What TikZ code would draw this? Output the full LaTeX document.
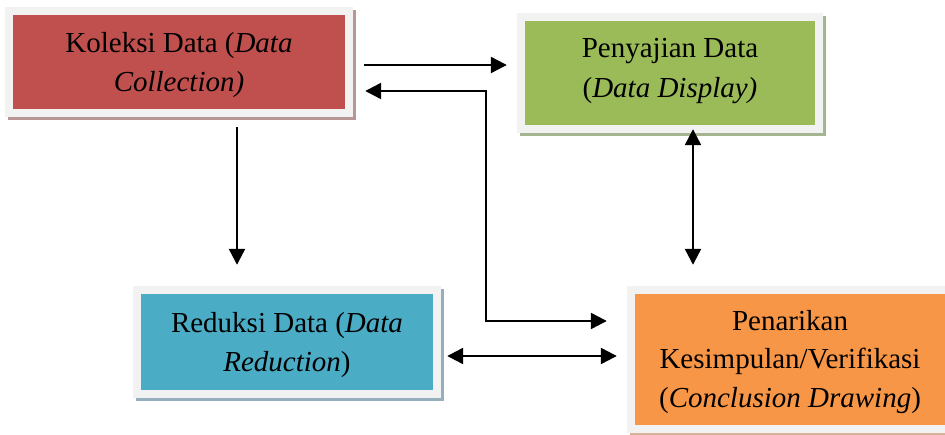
\documentclass[tikz,border=0pt]{standalone}
\usepackage{fontspec}
\setmainfont{Liberation Serif}
\usetikzlibrary{arrows.meta,shadows,calc}
\definecolor{cred}{HTML}{C0504D}
\definecolor{cgreen}{HTML}{9BBB59}
\definecolor{cblue}{HTML}{4BACC6}
\definecolor{corange}{HTML}{F79646}
\definecolor{frame}{HTML}{F2F2F2}
\definecolor{sred}{RGB}{185,150,150}
\definecolor{sgreen}{RGB}{165,180,145}
\definecolor{sblue}{RGB}{150,175,190}
\definecolor{sorange}{RGB}{215,180,150}
\tikzset{
  boxframe/.style={rectangle, fill=frame, inner sep=0pt, draw=none},
  shad/.style={drop shadow={shadow xshift=3pt, shadow yshift=-3pt, fill=#1, opacity=1}},
  txt/.style={align=center, inner sep=0pt, font=\fontsize{29}{38.5}\selectfont},
  arr/.style={line width=2.3pt, -{Triangle[length=16pt,width=16pt]}},
  darr/.style={line width=2.3pt, {Triangle[length=16pt,width=16pt]}-{Triangle[length=16pt,width=16pt]}},
}
\begin{document}
\begin{tikzpicture}[x=1pt,y=-1pt]
\useasboundingbox (0,0) rectangle (945,435);
% boxes
\node[boxframe, shad=sred, minimum width=348pt, minimum height=110pt] (r) at (179,62) {};
\fill[cred] ($(r.north west)+(8,8)$) rectangle ($(r.south east)+(-8,-8)$);
\node[boxframe, shad=sgreen, minimum width=306pt, minimum height=120pt] (g) at (670,73) {};
\fill[cgreen] ($(g.north west)+(8,8)$) rectangle ($(g.south east)+(-8,-8)$);
\node[boxframe, shad=sblue, minimum width=308pt, minimum height=112pt] (b) at (287,342) {};
\fill[cblue] ($(b.north west)+(8,8)$) rectangle ($(b.south east)+(-8,-8)$);
\node[boxframe, shad=sorange, minimum width=326pt, minimum height=147pt] (o) at (790,359.5) {};
\fill[corange] ($(o.north west)+(8,8)$) rectangle ($(o.south east)+(-8,-8)$);
% texts
\node[txt] (rt) at (179,65) {Koleksi Data (\textit{Data}\\\textit{Collection)}};
\node[txt, font=\fontsize{29}{40}\selectfont] (gt) at (670,71) {Penyajian Data\\(\textit{Data Display)}};
\node[txt] (bt) at (287,345) {Reduksi Data (\textit{Data}\\\textit{Reduction})};
\node[txt] (ot) at (790,362) {Penarikan\\Kesimpulan/Verifikasi\\(\textit{Conclusion Drawing})};
% connectors
\draw[arr] ($(r.east|-0,65)+(11,0)$) -- ($(g.west|-0,65)+(-10,0)$);
\coordinate (k1) at (486,91);
\coordinate (k2) at (486,321);
\draw[darr] ($(r.east|-k1)+(12,0)$) -- (k1) -- (k2) -- ($(o.west|-k2)+(-20,0)$);
\draw[arr] ($(r.south-|237,0)+(0,10)$) -- ($(b.north-|237,0)+(0,-21)$);
\draw[darr] ($(g.south-|693,0)+(0,-4)$) -- ($(o.north-|693,0)+(0,-21)$);
\draw[darr] ($(b.east|-0,356)+(6,0)$) -- ($(o.west|-0,356)+(-10,0)$);
\end{tikzpicture}
\end{document}
